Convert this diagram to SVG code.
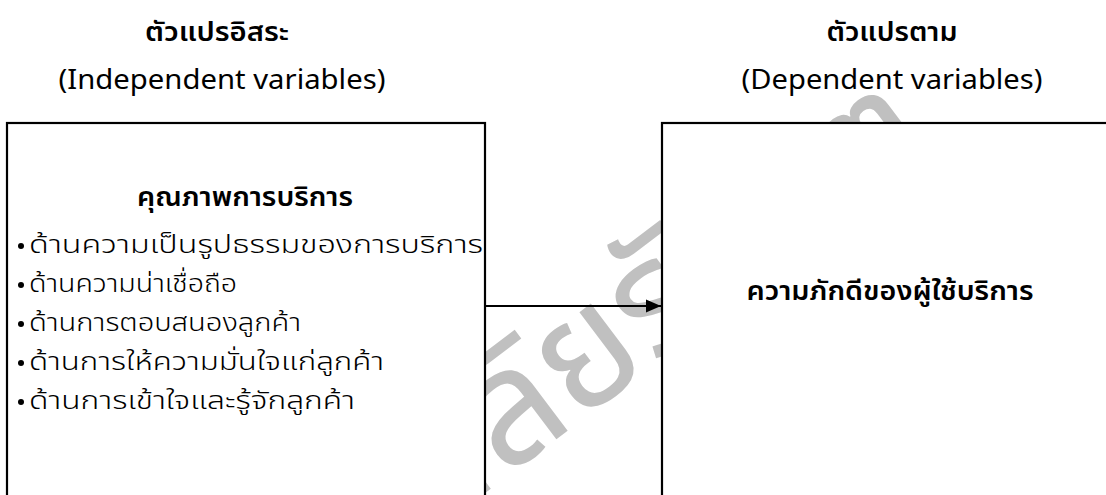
<svg xmlns="http://www.w3.org/2000/svg" width="1106" height="495" viewBox="0 0 1106 495">
  <style>
    .t { font-family: "Noto Sans Thai", "Noto Sans", sans-serif; fill: #000; }
    .title { font-size: 27px; font-weight: 600; text-anchor: middle; }
    .sub { font-size: 27px; text-anchor: middle; }
    .head { font-size: 27px; font-weight: 600; text-anchor: middle; }
    .item { font-size: 25px; font-weight: 300; }
    .wm { font-family: "Noto Sans Thai", "Noto Sans", sans-serif; font-size: 160px; fill: #c0c0c0; }
    .box { fill: #fff; stroke: #000; stroke-width: 2.2; }
    .conn { stroke: #000; stroke-width: 2.2; fill: none; }
  </style>
  <defs>
    <marker id="arrow" markerWidth="7" markerHeight="6" refX="7" refY="3" orient="auto" markerUnits="strokeWidth">
      <path d="M0,0 L7,3 L0,6 Z" fill="#000"/>
    </marker>
  </defs>
  <rect width="1106" height="495" fill="#fff"/>
  <g id="watermark" transform="translate(505,478) rotate(-37)">
    <text class="wm" x="-5" y="0" text-anchor="end">มหาวิทยา</text>
    <text class="wm" x="0" y="0">ลัยรังสิต</text>
  </g>
  <g id="independent">
    <rect class="box" x="7" y="123" width="478" height="390"/>
    <text class="t title" x="217" y="41" textLength="144" lengthAdjust="spacingAndGlyphs">ตัวแปรอิสระ</text>
    <text class="t sub" x="222" y="89" textLength="327" lengthAdjust="spacingAndGlyphs">(Independent variables)</text>
    <text class="t head" x="245" y="206" textLength="216" lengthAdjust="spacingAndGlyphs">คุณภาพการบริการ</text>
    <g class="t item">
      <circle cx="21" cy="246" r="3"/>
      <text x="29" y="253" textLength="454" lengthAdjust="spacingAndGlyphs">ด้านความเป็นรูปธรรมของการบริการ</text>
      <circle cx="21" cy="285" r="3"/>
      <text x="29" y="292" textLength="208" lengthAdjust="spacingAndGlyphs">ด้านความน่าเชื่อถือ</text>
      <circle cx="21" cy="324" r="3"/>
      <text x="29" y="331" textLength="272" lengthAdjust="spacingAndGlyphs">ด้านการตอบสนองลูกค้า</text>
      <circle cx="21" cy="363" r="3"/>
      <text x="29" y="370" textLength="355" lengthAdjust="spacingAndGlyphs">ด้านการให้ความมั่นใจแก่ลูกค้า</text>
      <circle cx="21" cy="402" r="3"/>
      <text x="29" y="409" textLength="326" lengthAdjust="spacingAndGlyphs">ด้านการเข้าใจและรู้จักลูกค้า</text>
    </g>
  </g>
  <g id="dependent">
    <rect class="box" x="662" y="123" width="460" height="390"/>
    <text class="t title" x="892" y="41" textLength="131" lengthAdjust="spacingAndGlyphs">ตัวแปรตาม</text>
    <text class="t sub" x="892" y="89" textLength="301" lengthAdjust="spacingAndGlyphs">(Dependent variables)</text>
    <text class="t head" x="890" y="300" textLength="287" lengthAdjust="spacingAndGlyphs">ความภักดีของผู้ใช้บริการ</text>
  </g>
  <g id="connectors">
    <line class="conn" x1="486" y1="306" x2="661" y2="306" marker-end="url(#arrow)"/>
  </g>
</svg>
